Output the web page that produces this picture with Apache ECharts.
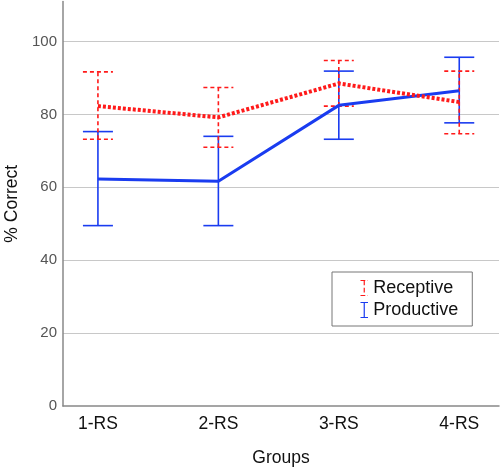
<!DOCTYPE html>
<html><head><meta charset="utf-8">
<script src="https://cdn.jsdelivr.net/npm/echarts@6/dist/echarts.min.js"></script>
<style>html,body{margin:0;padding:0;background:#fff}#c{width:500px;height:469px}</style>
</head><body><div id="c"></div>
<script>
var categories = ['1-RS', '2-RS', '3-RS', '4-RS'];
var yTicks = [0, 20, 40, 60, 80, 100];
var recMean = [82.3, 79.2, 88.5, 83.4];
var recLow  = [73.2, 71.0, 82.3, 74.7];
var recHigh = [91.7, 87.4, 94.8, 91.9];
var proMean = [62.3, 61.7, 82.5, 86.5];
var proLow  = [49.5, 49.5, 73.2, 77.7];
var proHigh = [75.3, 74.0, 91.9, 95.7];

var RED = '#ff1a1a', BLUE = '#1a3cf0';
var FONT = 'Liberation Sans';

function lineData(vals){ return vals.map(function(v,i){ return [i+1, v]; }); }
function errData(lo, hi){ return lo.map(function(v,i){ return [i+1, v, hi[i]]; }); }

function errRender(color, dashed){
  return function(params, api){
    var x = api.value(0);
    var lo = api.coord([x, api.value(1)]);
    var hi = api.coord([x, api.value(2)]);
    var hw = 15;
    var style = {stroke: color, lineWidth: 1.6, fill: null};
    if (dashed) style.lineDash = [4, 3];
    return {type:'group', children:[
      {type:'line', shape:{x1:lo[0], y1:lo[1], x2:hi[0], y2:hi[1]}, style: style},
      {type:'line', shape:{x1:lo[0]-hw, y1:lo[1], x2:lo[0]+hw, y2:lo[1]}, style: style},
      {type:'line', shape:{x1:hi[0]-hw, y1:hi[1], x2:hi[0]+hw, y2:hi[1]}, style: style}
    ]};
  };
}

var chart = echarts.init(document.getElementById('c'), null, {renderer:'canvas'});
chart.setOption({
  animation:false,
  backgroundColor:'#fff',
  textStyle:{fontFamily:FONT},
  grid:{left:63, right:1, top:1.5, bottom:63, containLabel:false, outerBoundsMode:'none'},
  xAxis:{
    type:'value', min:0.71, max:4.33,
    axisLine:{show:true, lineStyle:{color:'#888', width:1.5}},
    axisTick:{show:false},
    splitLine:{show:false},
    axisLabel:{customValues:[1,2,3,4], formatter:function(v){ return categories[Math.round(v)-1]; },
      color:'#111', fontSize:17.5, margin:9, fontFamily:FONT},
    name:'Groups', nameLocation:'middle', nameGap:43,
    nameTextStyle:{color:'#111', fontSize:17.5, fontFamily:FONT}
  },
  yAxis:{
    type:'value', min:0, max:111, interval:20,
    axisLine:{show:true, lineStyle:{color:'#888', width:1.5}},
    axisTick:{show:false},
    splitLine:{show:true, showMinLine:false, showMaxLine:false, lineStyle:{color:'#c8c8c8', width:1.2}},
    axisLabel:{showMaxLabel:false, color:'#555', fontSize:15, margin:6, fontFamily:FONT},
    name:'% Correct', nameLocation:'middle', nameGap:39,
    nameTextStyle:{color:'#111', fontSize:17.5, fontFamily:FONT}
  },
  legend:{
    orient:'vertical', left:332, top:272,
    backgroundColor:'#fff', borderColor:'#777', borderWidth:1,
    padding:[6, 14, 6, 26], itemGap:2, itemWidth:8, itemHeight:15,
    textStyle:{color:'#111', fontSize:18, fontFamily:FONT},
    data:[
      {name:'Receptive', icon:'path://M0,0H10M5,0V20M0,20H10', itemStyle:{color:'none', borderColor:RED, borderWidth:1.2, borderType:'dashed'}},
      {name:'Productive', icon:'path://M0,0H10M5,0V20M0,20H10', itemStyle:{color:'none', borderColor:BLUE, borderWidth:1.2}}
    ]
  },
  series:[
    {name:'Productive', type:'custom', renderItem:errRender(BLUE, false), data:errData(proLow, proHigh), z:2},
    {name:'Receptive', type:'custom', renderItem:errRender(RED, true), data:errData(recLow, recHigh), z:2},
    {name:'Productive', type:'line', data:lineData(proMean), symbol:'none', lineStyle:{color:BLUE, width:3}, itemStyle:{color:BLUE}, z:3},
    {name:'Receptive', type:'line', data:lineData(recMean), symbol:'none', lineStyle:{color:RED, width:4, type:[3,2]}, itemStyle:{color:RED}, z:4}
  ]
});
</script></body></html>
